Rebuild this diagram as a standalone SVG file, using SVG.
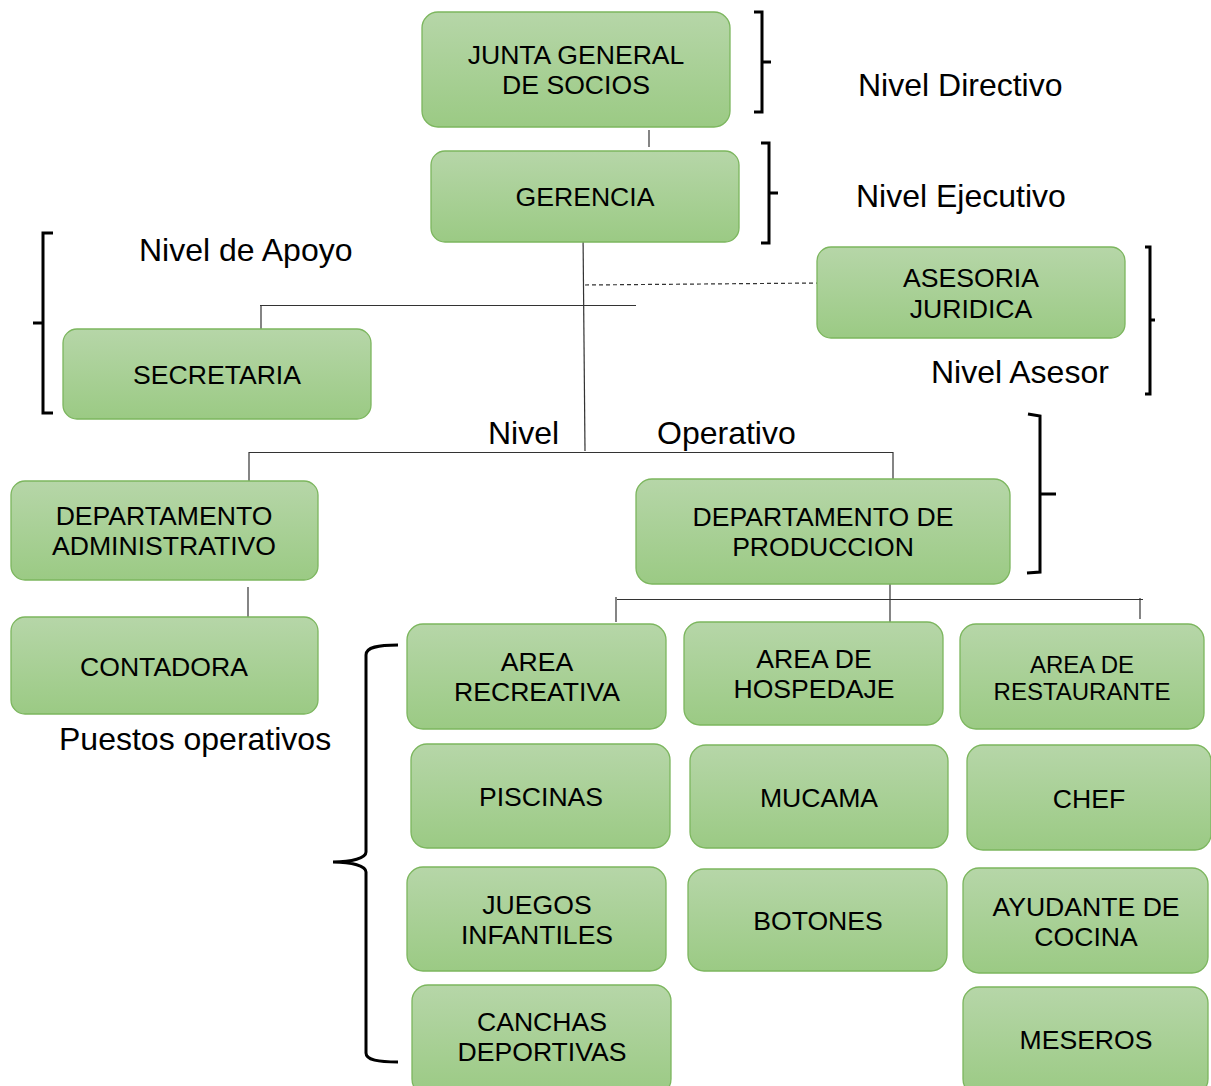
<svg xmlns="http://www.w3.org/2000/svg" width="1211" height="1086" viewBox="0 0 1211 1086">
<defs>
<linearGradient id="g" x1="0" y1="0" x2="0" y2="1">
<stop offset="0" stop-color="#b6d6a8"/>
<stop offset="1" stop-color="#9bca84"/>
</linearGradient>
</defs>
<style>
.box{fill:url(#g);stroke:#7cb65e;stroke-width:1.3}
.t{font-family:"Liberation Sans",Arial,sans-serif;font-size:26.6px;fill:#000;text-anchor:middle;dominant-baseline:central}
.s{font-size:24px}
.lbl{font-family:"Liberation Sans",Arial,sans-serif;font-size:32px;fill:#000}
.c{stroke:#333;stroke-width:1.2;fill:none}
.br{stroke:#000;stroke-width:3;fill:none}
</style>
<rect width="1211" height="1086" fill="#fff"/>
<g id="connectors">
<line class="c" x1="649" y1="130" x2="649" y2="147"/>
<line class="c" x1="583" y1="232" x2="585" y2="451"/>
<line class="c" x1="585" y1="285" x2="820" y2="283" stroke-dasharray="4,3"/>
<line class="c" x1="260" y1="305.5" x2="636" y2="305.5"/>
<line class="c" x1="261" y1="305" x2="261" y2="329"/>
<line class="c" x1="249" y1="452.5" x2="893" y2="452.5"/>
<line class="c" x1="249" y1="452" x2="249" y2="481"/>
<line class="c" x1="893" y1="452" x2="893" y2="479"/>
<line class="c" x1="248" y1="587" x2="248" y2="617"/>
<line class="c" x1="890" y1="584" x2="890" y2="622"/>
<line class="c" x1="617" y1="599.5" x2="1143" y2="599.5"/>
<line class="c" x1="616" y1="597" x2="616" y2="622"/>
<line class="c" x1="1140" y1="598" x2="1140" y2="619"/>
</g>
<g id="braces">
<path class="br" d="M754,12 H762 V112 H754 M762,62 H771"/>
<path class="br" d="M761,143 H769 V243 H761 M769,193 H778"/>
<path class="br" d="M1145,247 H1150 V394 H1145 M1150,320 H1155"/>
<path class="br" d="M1028,414 L1040,416 V572 L1027,573 M1040,494 H1056"/>
<path class="br" d="M53,233 H43 V413 H53 M33,323 H43"/>
<path class="br" d="M398,645 C378,645 366,647 366,655 V852 C366,858 352,862 333,862 C352,862 366,866 366,872 V1053 C366,1060 378,1062 398,1062"/>
</g>
<g id="labels">
<text class="lbl" x="858" y="96">Nivel Directivo</text>
<text class="lbl" x="856" y="207">Nivel Ejecutivo</text>
<text class="lbl" x="139" y="261">Nivel de Apoyo</text>
<text class="lbl" x="931" y="383">Nivel Asesor</text>
<text class="lbl" x="488" y="444">Nivel</text>
<text class="lbl" x="657" y="444">Operativo</text>
<text class="lbl" x="59" y="750">Puestos operativos</text>
</g>
<g id="n-junta"><rect class="box" x="422" y="12" width="308" height="115" rx="16"/><text class="t" x="576" y="55">JUNTA GENERAL</text><text class="t" x="576" y="85">DE SOCIOS</text></g>
<g id="n-gerencia"><rect class="box" x="431" y="151" width="308" height="91" rx="14"/><text class="t" x="585" y="197">GERENCIA</text></g>
<g id="n-asesoria"><rect class="box" x="817" y="247" width="308" height="91" rx="14"/><text class="t" x="971" y="278">ASESORIA</text><text class="t" x="971" y="309">JURIDICA</text></g>
<g id="n-secretaria"><rect class="box" x="63" y="329" width="308" height="90" rx="14"/><text class="t" x="217" y="375">SECRETARIA</text></g>
<g id="n-dadmin"><rect class="box" x="11" y="481" width="307" height="99" rx="14"/><text class="t" x="164" y="516">DEPARTAMENTO</text><text class="t" x="164" y="546">ADMINISTRATIVO</text></g>
<g id="n-dprod"><rect class="box" x="636" y="479" width="374" height="105" rx="16"/><text class="t" x="823" y="517">DEPARTAMENTO DE</text><text class="t" x="823" y="547">PRODUCCION</text></g>
<g id="n-contadora"><rect class="box" x="11" y="617" width="307" height="97" rx="14"/><text class="t" x="164" y="667">CONTADORA</text></g>
<g id="n-arearec"><rect class="box" x="407" y="624" width="259" height="105" rx="16"/><text class="t" x="537" y="662">AREA</text><text class="t" x="537" y="692">RECREATIVA</text></g>
<g id="n-areahosp"><rect class="box" x="684" y="622" width="259" height="103" rx="16"/><text class="t" x="814" y="659">AREA DE</text><text class="t" x="814" y="689">HOSPEDAJE</text></g>
<g id="n-arearest"><rect class="box" x="960" y="624" width="244" height="105" rx="16"/><text class="t s" x="1082" y="664">AREA DE</text><text class="t s" x="1082" y="691">RESTAURANTE</text></g>
<g id="n-piscinas"><rect class="box" x="411" y="744" width="259" height="104" rx="16"/><text class="t" x="541" y="797">PISCINAS</text></g>
<g id="n-mucama"><rect class="box" x="690" y="745" width="258" height="103" rx="16"/><text class="t" x="819" y="798">MUCAMA</text></g>
<g id="n-chef"><rect class="box" x="967" y="745" width="244" height="105" rx="16"/><text class="t" x="1089" y="799">CHEF</text></g>
<g id="n-juegos"><rect class="box" x="407" y="867" width="259" height="104" rx="16"/><text class="t" x="537" y="905">JUEGOS</text><text class="t" x="537" y="935">INFANTILES</text></g>
<g id="n-botones"><rect class="box" x="688" y="869" width="259" height="102" rx="16"/><text class="t" x="818" y="921">BOTONES</text></g>
<g id="n-ayudante"><rect class="box" x="963" y="868" width="245" height="105" rx="16"/><text class="t" x="1086" y="907">AYUDANTE DE</text><text class="t" x="1086" y="937">COCINA</text></g>
<g id="n-canchas"><rect class="box" x="412" y="985" width="259" height="110" rx="16"/><text class="t" x="542" y="1022">CANCHAS</text><text class="t" x="542" y="1052">DEPORTIVAS</text></g>
<g id="n-meseros"><rect class="box" x="963" y="987" width="245" height="108" rx="16"/><text class="t" x="1086" y="1040">MESEROS</text></g>
</svg>
